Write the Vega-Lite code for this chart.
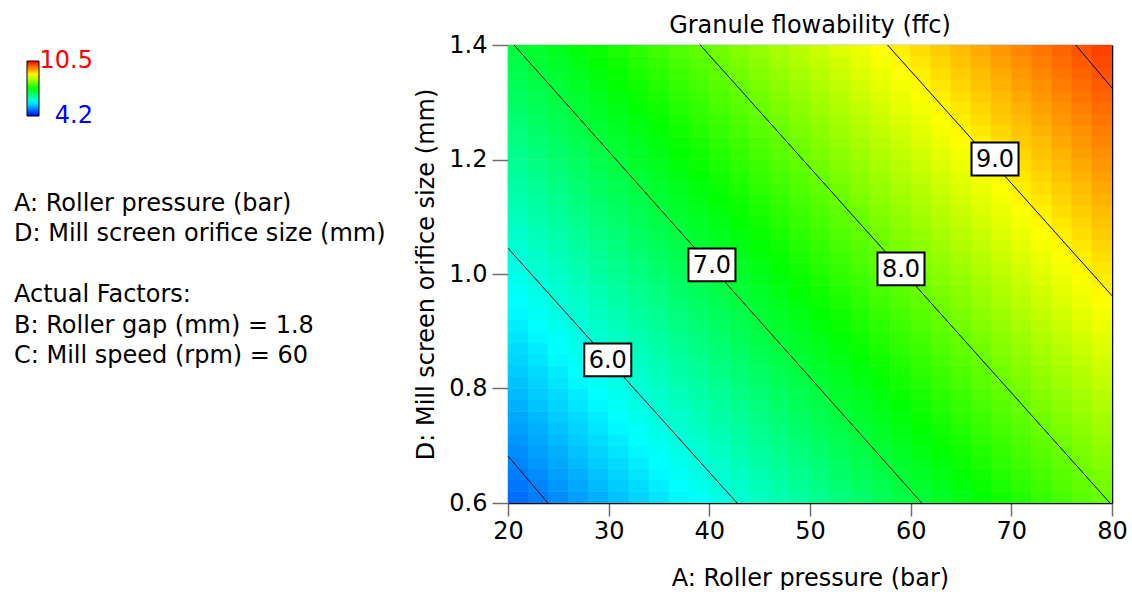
{
"$schema":"https://vega.github.io/schema/vega-lite/v6.json",
"background":"white",
"padding":{"left":14,"top":14,"right":5,"bottom":0},
"spacing":20,
"config":{"view":{"stroke":null},"font":"DejaVu Sans"},
"datasets":{
"notes":[{"col":0,"line":1,"txt":"A: Roller pressure (bar)"},{"col":0,"line":2,"txt":"D: Mill screen orifice size (mm)"},{"col":0,"line":4,"txt":"Actual Factors:"},{"col":0,"line":5,"txt":"B: Roller gap (mm) = 1.8"},{"col":0,"line":6,"txt":"C: Mill speed (rpm) = 60"}],
"lines":[{"lev":5,"a":20,"d":0.682},{"lev":5,"a":23.97,"d":0.6},{"lev":6,"a":20,"d":1.045},{"lev":6,"a":42.75,"d":0.6},{"lev":7,"a":20.6,"d":1.4},{"lev":7,"a":61.1,"d":0.6},{"lev":8,"a":39.1,"d":1.4},{"lev":8,"a":79.8,"d":0.6},{"lev":9,"a":57.7,"d":1.4},{"lev":9,"a":80,"d":0.962},{"lev":10,"a":76.4,"d":1.4},{"lev":10,"a":80,"d":1.325}],
"labels":[{"lab":"6.0","a":29.91,"d":0.85},{"lab":"7.0","a":40.26,"d":1.016},{"lab":"8.0","a":59.04,"d":1.009},{"lab":"9.0","a":68.38,"d":1.201}],
"grid":[
{"a":21,"d":0.61,"f":4.86},{"a":23,"d":0.61,"f":4.97},{"a":25,"d":0.61,"f":5.08},{"a":27,"d":0.61,"f":5.19},{"a":29,"d":0.61,"f":5.29},{"a":31,"d":0.61,"f":5.4},{"a":33,"d":0.61,"f":5.51},{"a":35,"d":0.61,"f":5.62},{"a":37,"d":0.61,"f":5.73},{"a":39,"d":0.61,"f":5.83},{"a":41,"d":0.61,"f":5.94},{"a":43,"d":0.61,"f":6.05},{"a":45,"d":0.61,"f":6.16},{"a":47,"d":0.61,"f":6.27},{"a":49,"d":0.61,"f":6.37},{"a":51,"d":0.61,"f":6.48},{"a":53,"d":0.61,"f":6.59},{"a":55,"d":0.61,"f":6.7},{"a":57,"d":0.61,"f":6.81},{"a":59,"d":0.61,"f":6.91},{"a":61,"d":0.61,"f":7.02},{"a":63,"d":0.61,"f":7.13},{"a":65,"d":0.61,"f":7.24},{"a":67,"d":0.61,"f":7.35},{"a":69,"d":0.61,"f":7.45},{"a":71,"d":0.61,"f":7.56},{"a":73,"d":0.61,"f":7.67},{"a":75,"d":0.61,"f":7.78},{"a":77,"d":0.61,"f":7.89},{"a":79,"d":0.61,"f":7.99},
{"a":21,"d":0.63,"f":4.92},{"a":23,"d":0.63,"f":5.02},{"a":25,"d":0.63,"f":5.13},{"a":27,"d":0.63,"f":5.24},{"a":29,"d":0.63,"f":5.35},{"a":31,"d":0.63,"f":5.46},{"a":33,"d":0.63,"f":5.56},{"a":35,"d":0.63,"f":5.67},{"a":37,"d":0.63,"f":5.78},{"a":39,"d":0.63,"f":5.89},{"a":41,"d":0.63,"f":6},{"a":43,"d":0.63,"f":6.1},{"a":45,"d":0.63,"f":6.21},{"a":47,"d":0.63,"f":6.32},{"a":49,"d":0.63,"f":6.43},{"a":51,"d":0.63,"f":6.54},{"a":53,"d":0.63,"f":6.64},{"a":55,"d":0.63,"f":6.75},{"a":57,"d":0.63,"f":6.86},{"a":59,"d":0.63,"f":6.97},{"a":61,"d":0.63,"f":7.08},{"a":63,"d":0.63,"f":7.18},{"a":65,"d":0.63,"f":7.29},{"a":67,"d":0.63,"f":7.4},{"a":69,"d":0.63,"f":7.51},{"a":71,"d":0.63,"f":7.62},{"a":73,"d":0.63,"f":7.72},{"a":75,"d":0.63,"f":7.83},{"a":77,"d":0.63,"f":7.94},{"a":79,"d":0.63,"f":8.05},
{"a":21,"d":0.65,"f":4.97},{"a":23,"d":0.65,"f":5.08},{"a":25,"d":0.65,"f":5.19},{"a":27,"d":0.65,"f":5.29},{"a":29,"d":0.65,"f":5.4},{"a":31,"d":0.65,"f":5.51},{"a":33,"d":0.65,"f":5.62},{"a":35,"d":0.65,"f":5.73},{"a":37,"d":0.65,"f":5.83},{"a":39,"d":0.65,"f":5.94},{"a":41,"d":0.65,"f":6.05},{"a":43,"d":0.65,"f":6.16},{"a":45,"d":0.65,"f":6.27},{"a":47,"d":0.65,"f":6.37},{"a":49,"d":0.65,"f":6.48},{"a":51,"d":0.65,"f":6.59},{"a":53,"d":0.65,"f":6.7},{"a":55,"d":0.65,"f":6.81},{"a":57,"d":0.65,"f":6.91},{"a":59,"d":0.65,"f":7.02},{"a":61,"d":0.65,"f":7.13},{"a":63,"d":0.65,"f":7.24},{"a":65,"d":0.65,"f":7.35},{"a":67,"d":0.65,"f":7.45},{"a":69,"d":0.65,"f":7.56},{"a":71,"d":0.65,"f":7.67},{"a":73,"d":0.65,"f":7.78},{"a":75,"d":0.65,"f":7.89},{"a":77,"d":0.65,"f":7.99},{"a":79,"d":0.65,"f":8.1},
{"a":21,"d":0.67,"f":5.02},{"a":23,"d":0.67,"f":5.13},{"a":25,"d":0.67,"f":5.24},{"a":27,"d":0.67,"f":5.35},{"a":29,"d":0.67,"f":5.46},{"a":31,"d":0.67,"f":5.56},{"a":33,"d":0.67,"f":5.67},{"a":35,"d":0.67,"f":5.78},{"a":37,"d":0.67,"f":5.89},{"a":39,"d":0.67,"f":6},{"a":41,"d":0.67,"f":6.1},{"a":43,"d":0.67,"f":6.21},{"a":45,"d":0.67,"f":6.32},{"a":47,"d":0.67,"f":6.43},{"a":49,"d":0.67,"f":6.54},{"a":51,"d":0.67,"f":6.64},{"a":53,"d":0.67,"f":6.75},{"a":55,"d":0.67,"f":6.86},{"a":57,"d":0.67,"f":6.97},{"a":59,"d":0.67,"f":7.08},{"a":61,"d":0.67,"f":7.18},{"a":63,"d":0.67,"f":7.29},{"a":65,"d":0.67,"f":7.4},{"a":67,"d":0.67,"f":7.51},{"a":69,"d":0.67,"f":7.62},{"a":71,"d":0.67,"f":7.72},{"a":73,"d":0.67,"f":7.83},{"a":75,"d":0.67,"f":7.94},{"a":77,"d":0.67,"f":8.05},{"a":79,"d":0.67,"f":8.16},
{"a":21,"d":0.69,"f":5.08},{"a":23,"d":0.69,"f":5.19},{"a":25,"d":0.69,"f":5.29},{"a":27,"d":0.69,"f":5.4},{"a":29,"d":0.69,"f":5.51},{"a":31,"d":0.69,"f":5.62},{"a":33,"d":0.69,"f":5.73},{"a":35,"d":0.69,"f":5.83},{"a":37,"d":0.69,"f":5.94},{"a":39,"d":0.69,"f":6.05},{"a":41,"d":0.69,"f":6.16},{"a":43,"d":0.69,"f":6.27},{"a":45,"d":0.69,"f":6.37},{"a":47,"d":0.69,"f":6.48},{"a":49,"d":0.69,"f":6.59},{"a":51,"d":0.69,"f":6.7},{"a":53,"d":0.69,"f":6.81},{"a":55,"d":0.69,"f":6.91},{"a":57,"d":0.69,"f":7.02},{"a":59,"d":0.69,"f":7.13},{"a":61,"d":0.69,"f":7.24},{"a":63,"d":0.69,"f":7.35},{"a":65,"d":0.69,"f":7.45},{"a":67,"d":0.69,"f":7.56},{"a":69,"d":0.69,"f":7.67},{"a":71,"d":0.69,"f":7.78},{"a":73,"d":0.69,"f":7.89},{"a":75,"d":0.69,"f":7.99},{"a":77,"d":0.69,"f":8.1},{"a":79,"d":0.69,"f":8.21},
{"a":21,"d":0.71,"f":5.13},{"a":23,"d":0.71,"f":5.24},{"a":25,"d":0.71,"f":5.35},{"a":27,"d":0.71,"f":5.46},{"a":29,"d":0.71,"f":5.56},{"a":31,"d":0.71,"f":5.67},{"a":33,"d":0.71,"f":5.78},{"a":35,"d":0.71,"f":5.89},{"a":37,"d":0.71,"f":6},{"a":39,"d":0.71,"f":6.1},{"a":41,"d":0.71,"f":6.21},{"a":43,"d":0.71,"f":6.32},{"a":45,"d":0.71,"f":6.43},{"a":47,"d":0.71,"f":6.54},{"a":49,"d":0.71,"f":6.64},{"a":51,"d":0.71,"f":6.75},{"a":53,"d":0.71,"f":6.86},{"a":55,"d":0.71,"f":6.97},{"a":57,"d":0.71,"f":7.08},{"a":59,"d":0.71,"f":7.18},{"a":61,"d":0.71,"f":7.29},{"a":63,"d":0.71,"f":7.4},{"a":65,"d":0.71,"f":7.51},{"a":67,"d":0.71,"f":7.62},{"a":69,"d":0.71,"f":7.72},{"a":71,"d":0.71,"f":7.83},{"a":73,"d":0.71,"f":7.94},{"a":75,"d":0.71,"f":8.05},{"a":77,"d":0.71,"f":8.16},{"a":79,"d":0.71,"f":8.26},
{"a":21,"d":0.73,"f":5.19},{"a":23,"d":0.73,"f":5.29},{"a":25,"d":0.73,"f":5.4},{"a":27,"d":0.73,"f":5.51},{"a":29,"d":0.73,"f":5.62},{"a":31,"d":0.73,"f":5.73},{"a":33,"d":0.73,"f":5.83},{"a":35,"d":0.73,"f":5.94},{"a":37,"d":0.73,"f":6.05},{"a":39,"d":0.73,"f":6.16},{"a":41,"d":0.73,"f":6.27},{"a":43,"d":0.73,"f":6.37},{"a":45,"d":0.73,"f":6.48},{"a":47,"d":0.73,"f":6.59},{"a":49,"d":0.73,"f":6.7},{"a":51,"d":0.73,"f":6.81},{"a":53,"d":0.73,"f":6.91},{"a":55,"d":0.73,"f":7.02},{"a":57,"d":0.73,"f":7.13},{"a":59,"d":0.73,"f":7.24},{"a":61,"d":0.73,"f":7.35},{"a":63,"d":0.73,"f":7.45},{"a":65,"d":0.73,"f":7.56},{"a":67,"d":0.73,"f":7.67},{"a":69,"d":0.73,"f":7.78},{"a":71,"d":0.73,"f":7.89},{"a":73,"d":0.73,"f":7.99},{"a":75,"d":0.73,"f":8.1},{"a":77,"d":0.73,"f":8.21},{"a":79,"d":0.73,"f":8.32},
{"a":21,"d":0.75,"f":5.24},{"a":23,"d":0.75,"f":5.35},{"a":25,"d":0.75,"f":5.46},{"a":27,"d":0.75,"f":5.56},{"a":29,"d":0.75,"f":5.67},{"a":31,"d":0.75,"f":5.78},{"a":33,"d":0.75,"f":5.89},{"a":35,"d":0.75,"f":6},{"a":37,"d":0.75,"f":6.1},{"a":39,"d":0.75,"f":6.21},{"a":41,"d":0.75,"f":6.32},{"a":43,"d":0.75,"f":6.43},{"a":45,"d":0.75,"f":6.54},{"a":47,"d":0.75,"f":6.64},{"a":49,"d":0.75,"f":6.75},{"a":51,"d":0.75,"f":6.86},{"a":53,"d":0.75,"f":6.97},{"a":55,"d":0.75,"f":7.08},{"a":57,"d":0.75,"f":7.18},{"a":59,"d":0.75,"f":7.29},{"a":61,"d":0.75,"f":7.4},{"a":63,"d":0.75,"f":7.51},{"a":65,"d":0.75,"f":7.62},{"a":67,"d":0.75,"f":7.72},{"a":69,"d":0.75,"f":7.83},{"a":71,"d":0.75,"f":7.94},{"a":73,"d":0.75,"f":8.05},{"a":75,"d":0.75,"f":8.16},{"a":77,"d":0.75,"f":8.26},{"a":79,"d":0.75,"f":8.37},
{"a":21,"d":0.77,"f":5.29},{"a":23,"d":0.77,"f":5.4},{"a":25,"d":0.77,"f":5.51},{"a":27,"d":0.77,"f":5.62},{"a":29,"d":0.77,"f":5.73},{"a":31,"d":0.77,"f":5.83},{"a":33,"d":0.77,"f":5.94},{"a":35,"d":0.77,"f":6.05},{"a":37,"d":0.77,"f":6.16},{"a":39,"d":0.77,"f":6.27},{"a":41,"d":0.77,"f":6.37},{"a":43,"d":0.77,"f":6.48},{"a":45,"d":0.77,"f":6.59},{"a":47,"d":0.77,"f":6.7},{"a":49,"d":0.77,"f":6.81},{"a":51,"d":0.77,"f":6.91},{"a":53,"d":0.77,"f":7.02},{"a":55,"d":0.77,"f":7.13},{"a":57,"d":0.77,"f":7.24},{"a":59,"d":0.77,"f":7.35},{"a":61,"d":0.77,"f":7.45},{"a":63,"d":0.77,"f":7.56},{"a":65,"d":0.77,"f":7.67},{"a":67,"d":0.77,"f":7.78},{"a":69,"d":0.77,"f":7.89},{"a":71,"d":0.77,"f":7.99},{"a":73,"d":0.77,"f":8.1},{"a":75,"d":0.77,"f":8.21},{"a":77,"d":0.77,"f":8.32},{"a":79,"d":0.77,"f":8.43},
{"a":21,"d":0.79,"f":5.35},{"a":23,"d":0.79,"f":5.46},{"a":25,"d":0.79,"f":5.56},{"a":27,"d":0.79,"f":5.67},{"a":29,"d":0.79,"f":5.78},{"a":31,"d":0.79,"f":5.89},{"a":33,"d":0.79,"f":6},{"a":35,"d":0.79,"f":6.1},{"a":37,"d":0.79,"f":6.21},{"a":39,"d":0.79,"f":6.32},{"a":41,"d":0.79,"f":6.43},{"a":43,"d":0.79,"f":6.54},{"a":45,"d":0.79,"f":6.64},{"a":47,"d":0.79,"f":6.75},{"a":49,"d":0.79,"f":6.86},{"a":51,"d":0.79,"f":6.97},{"a":53,"d":0.79,"f":7.08},{"a":55,"d":0.79,"f":7.18},{"a":57,"d":0.79,"f":7.29},{"a":59,"d":0.79,"f":7.4},{"a":61,"d":0.79,"f":7.51},{"a":63,"d":0.79,"f":7.62},{"a":65,"d":0.79,"f":7.72},{"a":67,"d":0.79,"f":7.83},{"a":69,"d":0.79,"f":7.94},{"a":71,"d":0.79,"f":8.05},{"a":73,"d":0.79,"f":8.16},{"a":75,"d":0.79,"f":8.26},{"a":77,"d":0.79,"f":8.37},{"a":79,"d":0.79,"f":8.48},
{"a":21,"d":0.81,"f":5.4},{"a":23,"d":0.81,"f":5.51},{"a":25,"d":0.81,"f":5.62},{"a":27,"d":0.81,"f":5.73},{"a":29,"d":0.81,"f":5.83},{"a":31,"d":0.81,"f":5.94},{"a":33,"d":0.81,"f":6.05},{"a":35,"d":0.81,"f":6.16},{"a":37,"d":0.81,"f":6.27},{"a":39,"d":0.81,"f":6.37},{"a":41,"d":0.81,"f":6.48},{"a":43,"d":0.81,"f":6.59},{"a":45,"d":0.81,"f":6.7},{"a":47,"d":0.81,"f":6.81},{"a":49,"d":0.81,"f":6.91},{"a":51,"d":0.81,"f":7.02},{"a":53,"d":0.81,"f":7.13},{"a":55,"d":0.81,"f":7.24},{"a":57,"d":0.81,"f":7.35},{"a":59,"d":0.81,"f":7.45},{"a":61,"d":0.81,"f":7.56},{"a":63,"d":0.81,"f":7.67},{"a":65,"d":0.81,"f":7.78},{"a":67,"d":0.81,"f":7.89},{"a":69,"d":0.81,"f":7.99},{"a":71,"d":0.81,"f":8.1},{"a":73,"d":0.81,"f":8.21},{"a":75,"d":0.81,"f":8.32},{"a":77,"d":0.81,"f":8.43},{"a":79,"d":0.81,"f":8.53},
{"a":21,"d":0.83,"f":5.46},{"a":23,"d":0.83,"f":5.56},{"a":25,"d":0.83,"f":5.67},{"a":27,"d":0.83,"f":5.78},{"a":29,"d":0.83,"f":5.89},{"a":31,"d":0.83,"f":6},{"a":33,"d":0.83,"f":6.1},{"a":35,"d":0.83,"f":6.21},{"a":37,"d":0.83,"f":6.32},{"a":39,"d":0.83,"f":6.43},{"a":41,"d":0.83,"f":6.54},{"a":43,"d":0.83,"f":6.64},{"a":45,"d":0.83,"f":6.75},{"a":47,"d":0.83,"f":6.86},{"a":49,"d":0.83,"f":6.97},{"a":51,"d":0.83,"f":7.08},{"a":53,"d":0.83,"f":7.18},{"a":55,"d":0.83,"f":7.29},{"a":57,"d":0.83,"f":7.4},{"a":59,"d":0.83,"f":7.51},{"a":61,"d":0.83,"f":7.62},{"a":63,"d":0.83,"f":7.72},{"a":65,"d":0.83,"f":7.83},{"a":67,"d":0.83,"f":7.94},{"a":69,"d":0.83,"f":8.05},{"a":71,"d":0.83,"f":8.16},{"a":73,"d":0.83,"f":8.26},{"a":75,"d":0.83,"f":8.37},{"a":77,"d":0.83,"f":8.48},{"a":79,"d":0.83,"f":8.59},
{"a":21,"d":0.85,"f":5.51},{"a":23,"d":0.85,"f":5.62},{"a":25,"d":0.85,"f":5.73},{"a":27,"d":0.85,"f":5.83},{"a":29,"d":0.85,"f":5.94},{"a":31,"d":0.85,"f":6.05},{"a":33,"d":0.85,"f":6.16},{"a":35,"d":0.85,"f":6.27},{"a":37,"d":0.85,"f":6.37},{"a":39,"d":0.85,"f":6.48},{"a":41,"d":0.85,"f":6.59},{"a":43,"d":0.85,"f":6.7},{"a":45,"d":0.85,"f":6.81},{"a":47,"d":0.85,"f":6.91},{"a":49,"d":0.85,"f":7.02},{"a":51,"d":0.85,"f":7.13},{"a":53,"d":0.85,"f":7.24},{"a":55,"d":0.85,"f":7.35},{"a":57,"d":0.85,"f":7.45},{"a":59,"d":0.85,"f":7.56},{"a":61,"d":0.85,"f":7.67},{"a":63,"d":0.85,"f":7.78},{"a":65,"d":0.85,"f":7.89},{"a":67,"d":0.85,"f":7.99},{"a":69,"d":0.85,"f":8.1},{"a":71,"d":0.85,"f":8.21},{"a":73,"d":0.85,"f":8.32},{"a":75,"d":0.85,"f":8.43},{"a":77,"d":0.85,"f":8.53},{"a":79,"d":0.85,"f":8.64},
{"a":21,"d":0.87,"f":5.56},{"a":23,"d":0.87,"f":5.67},{"a":25,"d":0.87,"f":5.78},{"a":27,"d":0.87,"f":5.89},{"a":29,"d":0.87,"f":6},{"a":31,"d":0.87,"f":6.1},{"a":33,"d":0.87,"f":6.21},{"a":35,"d":0.87,"f":6.32},{"a":37,"d":0.87,"f":6.43},{"a":39,"d":0.87,"f":6.54},{"a":41,"d":0.87,"f":6.64},{"a":43,"d":0.87,"f":6.75},{"a":45,"d":0.87,"f":6.86},{"a":47,"d":0.87,"f":6.97},{"a":49,"d":0.87,"f":7.08},{"a":51,"d":0.87,"f":7.18},{"a":53,"d":0.87,"f":7.29},{"a":55,"d":0.87,"f":7.4},{"a":57,"d":0.87,"f":7.51},{"a":59,"d":0.87,"f":7.62},{"a":61,"d":0.87,"f":7.72},{"a":63,"d":0.87,"f":7.83},{"a":65,"d":0.87,"f":7.94},{"a":67,"d":0.87,"f":8.05},{"a":69,"d":0.87,"f":8.16},{"a":71,"d":0.87,"f":8.26},{"a":73,"d":0.87,"f":8.37},{"a":75,"d":0.87,"f":8.48},{"a":77,"d":0.87,"f":8.59},{"a":79,"d":0.87,"f":8.7},
{"a":21,"d":0.89,"f":5.62},{"a":23,"d":0.89,"f":5.73},{"a":25,"d":0.89,"f":5.83},{"a":27,"d":0.89,"f":5.94},{"a":29,"d":0.89,"f":6.05},{"a":31,"d":0.89,"f":6.16},{"a":33,"d":0.89,"f":6.27},{"a":35,"d":0.89,"f":6.37},{"a":37,"d":0.89,"f":6.48},{"a":39,"d":0.89,"f":6.59},{"a":41,"d":0.89,"f":6.7},{"a":43,"d":0.89,"f":6.81},{"a":45,"d":0.89,"f":6.91},{"a":47,"d":0.89,"f":7.02},{"a":49,"d":0.89,"f":7.13},{"a":51,"d":0.89,"f":7.24},{"a":53,"d":0.89,"f":7.35},{"a":55,"d":0.89,"f":7.45},{"a":57,"d":0.89,"f":7.56},{"a":59,"d":0.89,"f":7.67},{"a":61,"d":0.89,"f":7.78},{"a":63,"d":0.89,"f":7.89},{"a":65,"d":0.89,"f":7.99},{"a":67,"d":0.89,"f":8.1},{"a":69,"d":0.89,"f":8.21},{"a":71,"d":0.89,"f":8.32},{"a":73,"d":0.89,"f":8.43},{"a":75,"d":0.89,"f":8.53},{"a":77,"d":0.89,"f":8.64},{"a":79,"d":0.89,"f":8.75},
{"a":21,"d":0.91,"f":5.67},{"a":23,"d":0.91,"f":5.78},{"a":25,"d":0.91,"f":5.89},{"a":27,"d":0.91,"f":6},{"a":29,"d":0.91,"f":6.1},{"a":31,"d":0.91,"f":6.21},{"a":33,"d":0.91,"f":6.32},{"a":35,"d":0.91,"f":6.43},{"a":37,"d":0.91,"f":6.54},{"a":39,"d":0.91,"f":6.64},{"a":41,"d":0.91,"f":6.75},{"a":43,"d":0.91,"f":6.86},{"a":45,"d":0.91,"f":6.97},{"a":47,"d":0.91,"f":7.08},{"a":49,"d":0.91,"f":7.18},{"a":51,"d":0.91,"f":7.29},{"a":53,"d":0.91,"f":7.4},{"a":55,"d":0.91,"f":7.51},{"a":57,"d":0.91,"f":7.62},{"a":59,"d":0.91,"f":7.72},{"a":61,"d":0.91,"f":7.83},{"a":63,"d":0.91,"f":7.94},{"a":65,"d":0.91,"f":8.05},{"a":67,"d":0.91,"f":8.16},{"a":69,"d":0.91,"f":8.26},{"a":71,"d":0.91,"f":8.37},{"a":73,"d":0.91,"f":8.48},{"a":75,"d":0.91,"f":8.59},{"a":77,"d":0.91,"f":8.7},{"a":79,"d":0.91,"f":8.8},
{"a":21,"d":0.93,"f":5.73},{"a":23,"d":0.93,"f":5.83},{"a":25,"d":0.93,"f":5.94},{"a":27,"d":0.93,"f":6.05},{"a":29,"d":0.93,"f":6.16},{"a":31,"d":0.93,"f":6.27},{"a":33,"d":0.93,"f":6.37},{"a":35,"d":0.93,"f":6.48},{"a":37,"d":0.93,"f":6.59},{"a":39,"d":0.93,"f":6.7},{"a":41,"d":0.93,"f":6.81},{"a":43,"d":0.93,"f":6.91},{"a":45,"d":0.93,"f":7.02},{"a":47,"d":0.93,"f":7.13},{"a":49,"d":0.93,"f":7.24},{"a":51,"d":0.93,"f":7.35},{"a":53,"d":0.93,"f":7.45},{"a":55,"d":0.93,"f":7.56},{"a":57,"d":0.93,"f":7.67},{"a":59,"d":0.93,"f":7.78},{"a":61,"d":0.93,"f":7.89},{"a":63,"d":0.93,"f":7.99},{"a":65,"d":0.93,"f":8.1},{"a":67,"d":0.93,"f":8.21},{"a":69,"d":0.93,"f":8.32},{"a":71,"d":0.93,"f":8.43},{"a":73,"d":0.93,"f":8.53},{"a":75,"d":0.93,"f":8.64},{"a":77,"d":0.93,"f":8.75},{"a":79,"d":0.93,"f":8.86},
{"a":21,"d":0.95,"f":5.78},{"a":23,"d":0.95,"f":5.89},{"a":25,"d":0.95,"f":6},{"a":27,"d":0.95,"f":6.1},{"a":29,"d":0.95,"f":6.21},{"a":31,"d":0.95,"f":6.32},{"a":33,"d":0.95,"f":6.43},{"a":35,"d":0.95,"f":6.54},{"a":37,"d":0.95,"f":6.64},{"a":39,"d":0.95,"f":6.75},{"a":41,"d":0.95,"f":6.86},{"a":43,"d":0.95,"f":6.97},{"a":45,"d":0.95,"f":7.08},{"a":47,"d":0.95,"f":7.18},{"a":49,"d":0.95,"f":7.29},{"a":51,"d":0.95,"f":7.4},{"a":53,"d":0.95,"f":7.51},{"a":55,"d":0.95,"f":7.62},{"a":57,"d":0.95,"f":7.72},{"a":59,"d":0.95,"f":7.83},{"a":61,"d":0.95,"f":7.94},{"a":63,"d":0.95,"f":8.05},{"a":65,"d":0.95,"f":8.16},{"a":67,"d":0.95,"f":8.26},{"a":69,"d":0.95,"f":8.37},{"a":71,"d":0.95,"f":8.48},{"a":73,"d":0.95,"f":8.59},{"a":75,"d":0.95,"f":8.7},{"a":77,"d":0.95,"f":8.8},{"a":79,"d":0.95,"f":8.91},
{"a":21,"d":0.97,"f":5.83},{"a":23,"d":0.97,"f":5.94},{"a":25,"d":0.97,"f":6.05},{"a":27,"d":0.97,"f":6.16},{"a":29,"d":0.97,"f":6.27},{"a":31,"d":0.97,"f":6.37},{"a":33,"d":0.97,"f":6.48},{"a":35,"d":0.97,"f":6.59},{"a":37,"d":0.97,"f":6.7},{"a":39,"d":0.97,"f":6.81},{"a":41,"d":0.97,"f":6.91},{"a":43,"d":0.97,"f":7.02},{"a":45,"d":0.97,"f":7.13},{"a":47,"d":0.97,"f":7.24},{"a":49,"d":0.97,"f":7.35},{"a":51,"d":0.97,"f":7.45},{"a":53,"d":0.97,"f":7.56},{"a":55,"d":0.97,"f":7.67},{"a":57,"d":0.97,"f":7.78},{"a":59,"d":0.97,"f":7.89},{"a":61,"d":0.97,"f":7.99},{"a":63,"d":0.97,"f":8.1},{"a":65,"d":0.97,"f":8.21},{"a":67,"d":0.97,"f":8.32},{"a":69,"d":0.97,"f":8.43},{"a":71,"d":0.97,"f":8.53},{"a":73,"d":0.97,"f":8.64},{"a":75,"d":0.97,"f":8.75},{"a":77,"d":0.97,"f":8.86},{"a":79,"d":0.97,"f":8.97},
{"a":21,"d":0.99,"f":5.89},{"a":23,"d":0.99,"f":6},{"a":25,"d":0.99,"f":6.1},{"a":27,"d":0.99,"f":6.21},{"a":29,"d":0.99,"f":6.32},{"a":31,"d":0.99,"f":6.43},{"a":33,"d":0.99,"f":6.54},{"a":35,"d":0.99,"f":6.64},{"a":37,"d":0.99,"f":6.75},{"a":39,"d":0.99,"f":6.86},{"a":41,"d":0.99,"f":6.97},{"a":43,"d":0.99,"f":7.08},{"a":45,"d":0.99,"f":7.18},{"a":47,"d":0.99,"f":7.29},{"a":49,"d":0.99,"f":7.4},{"a":51,"d":0.99,"f":7.51},{"a":53,"d":0.99,"f":7.62},{"a":55,"d":0.99,"f":7.72},{"a":57,"d":0.99,"f":7.83},{"a":59,"d":0.99,"f":7.94},{"a":61,"d":0.99,"f":8.05},{"a":63,"d":0.99,"f":8.16},{"a":65,"d":0.99,"f":8.26},{"a":67,"d":0.99,"f":8.37},{"a":69,"d":0.99,"f":8.48},{"a":71,"d":0.99,"f":8.59},{"a":73,"d":0.99,"f":8.7},{"a":75,"d":0.99,"f":8.8},{"a":77,"d":0.99,"f":8.91},{"a":79,"d":0.99,"f":9.02},
{"a":21,"d":1.01,"f":5.94},{"a":23,"d":1.01,"f":6.05},{"a":25,"d":1.01,"f":6.16},{"a":27,"d":1.01,"f":6.27},{"a":29,"d":1.01,"f":6.37},{"a":31,"d":1.01,"f":6.48},{"a":33,"d":1.01,"f":6.59},{"a":35,"d":1.01,"f":6.7},{"a":37,"d":1.01,"f":6.81},{"a":39,"d":1.01,"f":6.91},{"a":41,"d":1.01,"f":7.02},{"a":43,"d":1.01,"f":7.13},{"a":45,"d":1.01,"f":7.24},{"a":47,"d":1.01,"f":7.35},{"a":49,"d":1.01,"f":7.45},{"a":51,"d":1.01,"f":7.56},{"a":53,"d":1.01,"f":7.67},{"a":55,"d":1.01,"f":7.78},{"a":57,"d":1.01,"f":7.89},{"a":59,"d":1.01,"f":7.99},{"a":61,"d":1.01,"f":8.1},{"a":63,"d":1.01,"f":8.21},{"a":65,"d":1.01,"f":8.32},{"a":67,"d":1.01,"f":8.43},{"a":69,"d":1.01,"f":8.53},{"a":71,"d":1.01,"f":8.64},{"a":73,"d":1.01,"f":8.75},{"a":75,"d":1.01,"f":8.86},{"a":77,"d":1.01,"f":8.97},{"a":79,"d":1.01,"f":9.07},
{"a":21,"d":1.03,"f":6},{"a":23,"d":1.03,"f":6.1},{"a":25,"d":1.03,"f":6.21},{"a":27,"d":1.03,"f":6.32},{"a":29,"d":1.03,"f":6.43},{"a":31,"d":1.03,"f":6.54},{"a":33,"d":1.03,"f":6.64},{"a":35,"d":1.03,"f":6.75},{"a":37,"d":1.03,"f":6.86},{"a":39,"d":1.03,"f":6.97},{"a":41,"d":1.03,"f":7.08},{"a":43,"d":1.03,"f":7.18},{"a":45,"d":1.03,"f":7.29},{"a":47,"d":1.03,"f":7.4},{"a":49,"d":1.03,"f":7.51},{"a":51,"d":1.03,"f":7.62},{"a":53,"d":1.03,"f":7.72},{"a":55,"d":1.03,"f":7.83},{"a":57,"d":1.03,"f":7.94},{"a":59,"d":1.03,"f":8.05},{"a":61,"d":1.03,"f":8.16},{"a":63,"d":1.03,"f":8.26},{"a":65,"d":1.03,"f":8.37},{"a":67,"d":1.03,"f":8.48},{"a":69,"d":1.03,"f":8.59},{"a":71,"d":1.03,"f":8.7},{"a":73,"d":1.03,"f":8.8},{"a":75,"d":1.03,"f":8.91},{"a":77,"d":1.03,"f":9.02},{"a":79,"d":1.03,"f":9.13},
{"a":21,"d":1.05,"f":6.05},{"a":23,"d":1.05,"f":6.16},{"a":25,"d":1.05,"f":6.27},{"a":27,"d":1.05,"f":6.37},{"a":29,"d":1.05,"f":6.48},{"a":31,"d":1.05,"f":6.59},{"a":33,"d":1.05,"f":6.7},{"a":35,"d":1.05,"f":6.81},{"a":37,"d":1.05,"f":6.91},{"a":39,"d":1.05,"f":7.02},{"a":41,"d":1.05,"f":7.13},{"a":43,"d":1.05,"f":7.24},{"a":45,"d":1.05,"f":7.35},{"a":47,"d":1.05,"f":7.45},{"a":49,"d":1.05,"f":7.56},{"a":51,"d":1.05,"f":7.67},{"a":53,"d":1.05,"f":7.78},{"a":55,"d":1.05,"f":7.89},{"a":57,"d":1.05,"f":7.99},{"a":59,"d":1.05,"f":8.1},{"a":61,"d":1.05,"f":8.21},{"a":63,"d":1.05,"f":8.32},{"a":65,"d":1.05,"f":8.43},{"a":67,"d":1.05,"f":8.53},{"a":69,"d":1.05,"f":8.64},{"a":71,"d":1.05,"f":8.75},{"a":73,"d":1.05,"f":8.86},{"a":75,"d":1.05,"f":8.97},{"a":77,"d":1.05,"f":9.07},{"a":79,"d":1.05,"f":9.18},
{"a":21,"d":1.07,"f":6.1},{"a":23,"d":1.07,"f":6.21},{"a":25,"d":1.07,"f":6.32},{"a":27,"d":1.07,"f":6.43},{"a":29,"d":1.07,"f":6.54},{"a":31,"d":1.07,"f":6.64},{"a":33,"d":1.07,"f":6.75},{"a":35,"d":1.07,"f":6.86},{"a":37,"d":1.07,"f":6.97},{"a":39,"d":1.07,"f":7.08},{"a":41,"d":1.07,"f":7.18},{"a":43,"d":1.07,"f":7.29},{"a":45,"d":1.07,"f":7.4},{"a":47,"d":1.07,"f":7.51},{"a":49,"d":1.07,"f":7.62},{"a":51,"d":1.07,"f":7.72},{"a":53,"d":1.07,"f":7.83},{"a":55,"d":1.07,"f":7.94},{"a":57,"d":1.07,"f":8.05},{"a":59,"d":1.07,"f":8.16},{"a":61,"d":1.07,"f":8.26},{"a":63,"d":1.07,"f":8.37},{"a":65,"d":1.07,"f":8.48},{"a":67,"d":1.07,"f":8.59},{"a":69,"d":1.07,"f":8.7},{"a":71,"d":1.07,"f":8.8},{"a":73,"d":1.07,"f":8.91},{"a":75,"d":1.07,"f":9.02},{"a":77,"d":1.07,"f":9.13},{"a":79,"d":1.07,"f":9.24},
{"a":21,"d":1.09,"f":6.16},{"a":23,"d":1.09,"f":6.27},{"a":25,"d":1.09,"f":6.37},{"a":27,"d":1.09,"f":6.48},{"a":29,"d":1.09,"f":6.59},{"a":31,"d":1.09,"f":6.7},{"a":33,"d":1.09,"f":6.81},{"a":35,"d":1.09,"f":6.91},{"a":37,"d":1.09,"f":7.02},{"a":39,"d":1.09,"f":7.13},{"a":41,"d":1.09,"f":7.24},{"a":43,"d":1.09,"f":7.35},{"a":45,"d":1.09,"f":7.45},{"a":47,"d":1.09,"f":7.56},{"a":49,"d":1.09,"f":7.67},{"a":51,"d":1.09,"f":7.78},{"a":53,"d":1.09,"f":7.89},{"a":55,"d":1.09,"f":7.99},{"a":57,"d":1.09,"f":8.1},{"a":59,"d":1.09,"f":8.21},{"a":61,"d":1.09,"f":8.32},{"a":63,"d":1.09,"f":8.43},{"a":65,"d":1.09,"f":8.53},{"a":67,"d":1.09,"f":8.64},{"a":69,"d":1.09,"f":8.75},{"a":71,"d":1.09,"f":8.86},{"a":73,"d":1.09,"f":8.97},{"a":75,"d":1.09,"f":9.07},{"a":77,"d":1.09,"f":9.18},{"a":79,"d":1.09,"f":9.29},
{"a":21,"d":1.11,"f":6.21},{"a":23,"d":1.11,"f":6.32},{"a":25,"d":1.11,"f":6.43},{"a":27,"d":1.11,"f":6.54},{"a":29,"d":1.11,"f":6.64},{"a":31,"d":1.11,"f":6.75},{"a":33,"d":1.11,"f":6.86},{"a":35,"d":1.11,"f":6.97},{"a":37,"d":1.11,"f":7.08},{"a":39,"d":1.11,"f":7.18},{"a":41,"d":1.11,"f":7.29},{"a":43,"d":1.11,"f":7.4},{"a":45,"d":1.11,"f":7.51},{"a":47,"d":1.11,"f":7.62},{"a":49,"d":1.11,"f":7.72},{"a":51,"d":1.11,"f":7.83},{"a":53,"d":1.11,"f":7.94},{"a":55,"d":1.11,"f":8.05},{"a":57,"d":1.11,"f":8.16},{"a":59,"d":1.11,"f":8.26},{"a":61,"d":1.11,"f":8.37},{"a":63,"d":1.11,"f":8.48},{"a":65,"d":1.11,"f":8.59},{"a":67,"d":1.11,"f":8.7},{"a":69,"d":1.11,"f":8.8},{"a":71,"d":1.11,"f":8.91},{"a":73,"d":1.11,"f":9.02},{"a":75,"d":1.11,"f":9.13},{"a":77,"d":1.11,"f":9.24},{"a":79,"d":1.11,"f":9.34},
{"a":21,"d":1.13,"f":6.27},{"a":23,"d":1.13,"f":6.37},{"a":25,"d":1.13,"f":6.48},{"a":27,"d":1.13,"f":6.59},{"a":29,"d":1.13,"f":6.7},{"a":31,"d":1.13,"f":6.81},{"a":33,"d":1.13,"f":6.91},{"a":35,"d":1.13,"f":7.02},{"a":37,"d":1.13,"f":7.13},{"a":39,"d":1.13,"f":7.24},{"a":41,"d":1.13,"f":7.35},{"a":43,"d":1.13,"f":7.45},{"a":45,"d":1.13,"f":7.56},{"a":47,"d":1.13,"f":7.67},{"a":49,"d":1.13,"f":7.78},{"a":51,"d":1.13,"f":7.89},{"a":53,"d":1.13,"f":7.99},{"a":55,"d":1.13,"f":8.1},{"a":57,"d":1.13,"f":8.21},{"a":59,"d":1.13,"f":8.32},{"a":61,"d":1.13,"f":8.43},{"a":63,"d":1.13,"f":8.53},{"a":65,"d":1.13,"f":8.64},{"a":67,"d":1.13,"f":8.75},{"a":69,"d":1.13,"f":8.86},{"a":71,"d":1.13,"f":8.97},{"a":73,"d":1.13,"f":9.07},{"a":75,"d":1.13,"f":9.18},{"a":77,"d":1.13,"f":9.29},{"a":79,"d":1.13,"f":9.4},
{"a":21,"d":1.15,"f":6.32},{"a":23,"d":1.15,"f":6.43},{"a":25,"d":1.15,"f":6.54},{"a":27,"d":1.15,"f":6.64},{"a":29,"d":1.15,"f":6.75},{"a":31,"d":1.15,"f":6.86},{"a":33,"d":1.15,"f":6.97},{"a":35,"d":1.15,"f":7.08},{"a":37,"d":1.15,"f":7.18},{"a":39,"d":1.15,"f":7.29},{"a":41,"d":1.15,"f":7.4},{"a":43,"d":1.15,"f":7.51},{"a":45,"d":1.15,"f":7.62},{"a":47,"d":1.15,"f":7.72},{"a":49,"d":1.15,"f":7.83},{"a":51,"d":1.15,"f":7.94},{"a":53,"d":1.15,"f":8.05},{"a":55,"d":1.15,"f":8.16},{"a":57,"d":1.15,"f":8.26},{"a":59,"d":1.15,"f":8.37},{"a":61,"d":1.15,"f":8.48},{"a":63,"d":1.15,"f":8.59},{"a":65,"d":1.15,"f":8.7},{"a":67,"d":1.15,"f":8.8},{"a":69,"d":1.15,"f":8.91},{"a":71,"d":1.15,"f":9.02},{"a":73,"d":1.15,"f":9.13},{"a":75,"d":1.15,"f":9.24},{"a":77,"d":1.15,"f":9.34},{"a":79,"d":1.15,"f":9.45},
{"a":21,"d":1.17,"f":6.37},{"a":23,"d":1.17,"f":6.48},{"a":25,"d":1.17,"f":6.59},{"a":27,"d":1.17,"f":6.7},{"a":29,"d":1.17,"f":6.81},{"a":31,"d":1.17,"f":6.91},{"a":33,"d":1.17,"f":7.02},{"a":35,"d":1.17,"f":7.13},{"a":37,"d":1.17,"f":7.24},{"a":39,"d":1.17,"f":7.35},{"a":41,"d":1.17,"f":7.45},{"a":43,"d":1.17,"f":7.56},{"a":45,"d":1.17,"f":7.67},{"a":47,"d":1.17,"f":7.78},{"a":49,"d":1.17,"f":7.89},{"a":51,"d":1.17,"f":7.99},{"a":53,"d":1.17,"f":8.1},{"a":55,"d":1.17,"f":8.21},{"a":57,"d":1.17,"f":8.32},{"a":59,"d":1.17,"f":8.43},{"a":61,"d":1.17,"f":8.53},{"a":63,"d":1.17,"f":8.64},{"a":65,"d":1.17,"f":8.75},{"a":67,"d":1.17,"f":8.86},{"a":69,"d":1.17,"f":8.97},{"a":71,"d":1.17,"f":9.07},{"a":73,"d":1.17,"f":9.18},{"a":75,"d":1.17,"f":9.29},{"a":77,"d":1.17,"f":9.4},{"a":79,"d":1.17,"f":9.51},
{"a":21,"d":1.19,"f":6.43},{"a":23,"d":1.19,"f":6.54},{"a":25,"d":1.19,"f":6.64},{"a":27,"d":1.19,"f":6.75},{"a":29,"d":1.19,"f":6.86},{"a":31,"d":1.19,"f":6.97},{"a":33,"d":1.19,"f":7.08},{"a":35,"d":1.19,"f":7.18},{"a":37,"d":1.19,"f":7.29},{"a":39,"d":1.19,"f":7.4},{"a":41,"d":1.19,"f":7.51},{"a":43,"d":1.19,"f":7.62},{"a":45,"d":1.19,"f":7.72},{"a":47,"d":1.19,"f":7.83},{"a":49,"d":1.19,"f":7.94},{"a":51,"d":1.19,"f":8.05},{"a":53,"d":1.19,"f":8.16},{"a":55,"d":1.19,"f":8.26},{"a":57,"d":1.19,"f":8.37},{"a":59,"d":1.19,"f":8.48},{"a":61,"d":1.19,"f":8.59},{"a":63,"d":1.19,"f":8.7},{"a":65,"d":1.19,"f":8.8},{"a":67,"d":1.19,"f":8.91},{"a":69,"d":1.19,"f":9.02},{"a":71,"d":1.19,"f":9.13},{"a":73,"d":1.19,"f":9.24},{"a":75,"d":1.19,"f":9.34},{"a":77,"d":1.19,"f":9.45},{"a":79,"d":1.19,"f":9.56},
{"a":21,"d":1.21,"f":6.48},{"a":23,"d":1.21,"f":6.59},{"a":25,"d":1.21,"f":6.7},{"a":27,"d":1.21,"f":6.81},{"a":29,"d":1.21,"f":6.91},{"a":31,"d":1.21,"f":7.02},{"a":33,"d":1.21,"f":7.13},{"a":35,"d":1.21,"f":7.24},{"a":37,"d":1.21,"f":7.35},{"a":39,"d":1.21,"f":7.45},{"a":41,"d":1.21,"f":7.56},{"a":43,"d":1.21,"f":7.67},{"a":45,"d":1.21,"f":7.78},{"a":47,"d":1.21,"f":7.89},{"a":49,"d":1.21,"f":7.99},{"a":51,"d":1.21,"f":8.1},{"a":53,"d":1.21,"f":8.21},{"a":55,"d":1.21,"f":8.32},{"a":57,"d":1.21,"f":8.43},{"a":59,"d":1.21,"f":8.53},{"a":61,"d":1.21,"f":8.64},{"a":63,"d":1.21,"f":8.75},{"a":65,"d":1.21,"f":8.86},{"a":67,"d":1.21,"f":8.97},{"a":69,"d":1.21,"f":9.07},{"a":71,"d":1.21,"f":9.18},{"a":73,"d":1.21,"f":9.29},{"a":75,"d":1.21,"f":9.4},{"a":77,"d":1.21,"f":9.51},{"a":79,"d":1.21,"f":9.61},
{"a":21,"d":1.23,"f":6.54},{"a":23,"d":1.23,"f":6.64},{"a":25,"d":1.23,"f":6.75},{"a":27,"d":1.23,"f":6.86},{"a":29,"d":1.23,"f":6.97},{"a":31,"d":1.23,"f":7.08},{"a":33,"d":1.23,"f":7.18},{"a":35,"d":1.23,"f":7.29},{"a":37,"d":1.23,"f":7.4},{"a":39,"d":1.23,"f":7.51},{"a":41,"d":1.23,"f":7.62},{"a":43,"d":1.23,"f":7.72},{"a":45,"d":1.23,"f":7.83},{"a":47,"d":1.23,"f":7.94},{"a":49,"d":1.23,"f":8.05},{"a":51,"d":1.23,"f":8.16},{"a":53,"d":1.23,"f":8.26},{"a":55,"d":1.23,"f":8.37},{"a":57,"d":1.23,"f":8.48},{"a":59,"d":1.23,"f":8.59},{"a":61,"d":1.23,"f":8.7},{"a":63,"d":1.23,"f":8.8},{"a":65,"d":1.23,"f":8.91},{"a":67,"d":1.23,"f":9.02},{"a":69,"d":1.23,"f":9.13},{"a":71,"d":1.23,"f":9.24},{"a":73,"d":1.23,"f":9.34},{"a":75,"d":1.23,"f":9.45},{"a":77,"d":1.23,"f":9.56},{"a":79,"d":1.23,"f":9.67},
{"a":21,"d":1.25,"f":6.59},{"a":23,"d":1.25,"f":6.7},{"a":25,"d":1.25,"f":6.81},{"a":27,"d":1.25,"f":6.91},{"a":29,"d":1.25,"f":7.02},{"a":31,"d":1.25,"f":7.13},{"a":33,"d":1.25,"f":7.24},{"a":35,"d":1.25,"f":7.35},{"a":37,"d":1.25,"f":7.45},{"a":39,"d":1.25,"f":7.56},{"a":41,"d":1.25,"f":7.67},{"a":43,"d":1.25,"f":7.78},{"a":45,"d":1.25,"f":7.89},{"a":47,"d":1.25,"f":7.99},{"a":49,"d":1.25,"f":8.1},{"a":51,"d":1.25,"f":8.21},{"a":53,"d":1.25,"f":8.32},{"a":55,"d":1.25,"f":8.43},{"a":57,"d":1.25,"f":8.53},{"a":59,"d":1.25,"f":8.64},{"a":61,"d":1.25,"f":8.75},{"a":63,"d":1.25,"f":8.86},{"a":65,"d":1.25,"f":8.97},{"a":67,"d":1.25,"f":9.07},{"a":69,"d":1.25,"f":9.18},{"a":71,"d":1.25,"f":9.29},{"a":73,"d":1.25,"f":9.4},{"a":75,"d":1.25,"f":9.51},{"a":77,"d":1.25,"f":9.61},{"a":79,"d":1.25,"f":9.72},
{"a":21,"d":1.27,"f":6.64},{"a":23,"d":1.27,"f":6.75},{"a":25,"d":1.27,"f":6.86},{"a":27,"d":1.27,"f":6.97},{"a":29,"d":1.27,"f":7.08},{"a":31,"d":1.27,"f":7.18},{"a":33,"d":1.27,"f":7.29},{"a":35,"d":1.27,"f":7.4},{"a":37,"d":1.27,"f":7.51},{"a":39,"d":1.27,"f":7.62},{"a":41,"d":1.27,"f":7.72},{"a":43,"d":1.27,"f":7.83},{"a":45,"d":1.27,"f":7.94},{"a":47,"d":1.27,"f":8.05},{"a":49,"d":1.27,"f":8.16},{"a":51,"d":1.27,"f":8.26},{"a":53,"d":1.27,"f":8.37},{"a":55,"d":1.27,"f":8.48},{"a":57,"d":1.27,"f":8.59},{"a":59,"d":1.27,"f":8.7},{"a":61,"d":1.27,"f":8.8},{"a":63,"d":1.27,"f":8.91},{"a":65,"d":1.27,"f":9.02},{"a":67,"d":1.27,"f":9.13},{"a":69,"d":1.27,"f":9.24},{"a":71,"d":1.27,"f":9.34},{"a":73,"d":1.27,"f":9.45},{"a":75,"d":1.27,"f":9.56},{"a":77,"d":1.27,"f":9.67},{"a":79,"d":1.27,"f":9.78},
{"a":21,"d":1.29,"f":6.7},{"a":23,"d":1.29,"f":6.81},{"a":25,"d":1.29,"f":6.91},{"a":27,"d":1.29,"f":7.02},{"a":29,"d":1.29,"f":7.13},{"a":31,"d":1.29,"f":7.24},{"a":33,"d":1.29,"f":7.35},{"a":35,"d":1.29,"f":7.45},{"a":37,"d":1.29,"f":7.56},{"a":39,"d":1.29,"f":7.67},{"a":41,"d":1.29,"f":7.78},{"a":43,"d":1.29,"f":7.89},{"a":45,"d":1.29,"f":7.99},{"a":47,"d":1.29,"f":8.1},{"a":49,"d":1.29,"f":8.21},{"a":51,"d":1.29,"f":8.32},{"a":53,"d":1.29,"f":8.43},{"a":55,"d":1.29,"f":8.53},{"a":57,"d":1.29,"f":8.64},{"a":59,"d":1.29,"f":8.75},{"a":61,"d":1.29,"f":8.86},{"a":63,"d":1.29,"f":8.97},{"a":65,"d":1.29,"f":9.07},{"a":67,"d":1.29,"f":9.18},{"a":69,"d":1.29,"f":9.29},{"a":71,"d":1.29,"f":9.4},{"a":73,"d":1.29,"f":9.51},{"a":75,"d":1.29,"f":9.61},{"a":77,"d":1.29,"f":9.72},{"a":79,"d":1.29,"f":9.83},
{"a":21,"d":1.31,"f":6.75},{"a":23,"d":1.31,"f":6.86},{"a":25,"d":1.31,"f":6.97},{"a":27,"d":1.31,"f":7.08},{"a":29,"d":1.31,"f":7.18},{"a":31,"d":1.31,"f":7.29},{"a":33,"d":1.31,"f":7.4},{"a":35,"d":1.31,"f":7.51},{"a":37,"d":1.31,"f":7.62},{"a":39,"d":1.31,"f":7.72},{"a":41,"d":1.31,"f":7.83},{"a":43,"d":1.31,"f":7.94},{"a":45,"d":1.31,"f":8.05},{"a":47,"d":1.31,"f":8.16},{"a":49,"d":1.31,"f":8.26},{"a":51,"d":1.31,"f":8.37},{"a":53,"d":1.31,"f":8.48},{"a":55,"d":1.31,"f":8.59},{"a":57,"d":1.31,"f":8.7},{"a":59,"d":1.31,"f":8.8},{"a":61,"d":1.31,"f":8.91},{"a":63,"d":1.31,"f":9.02},{"a":65,"d":1.31,"f":9.13},{"a":67,"d":1.31,"f":9.24},{"a":69,"d":1.31,"f":9.34},{"a":71,"d":1.31,"f":9.45},{"a":73,"d":1.31,"f":9.56},{"a":75,"d":1.31,"f":9.67},{"a":77,"d":1.31,"f":9.78},{"a":79,"d":1.31,"f":9.88},
{"a":21,"d":1.33,"f":6.81},{"a":23,"d":1.33,"f":6.91},{"a":25,"d":1.33,"f":7.02},{"a":27,"d":1.33,"f":7.13},{"a":29,"d":1.33,"f":7.24},{"a":31,"d":1.33,"f":7.35},{"a":33,"d":1.33,"f":7.45},{"a":35,"d":1.33,"f":7.56},{"a":37,"d":1.33,"f":7.67},{"a":39,"d":1.33,"f":7.78},{"a":41,"d":1.33,"f":7.89},{"a":43,"d":1.33,"f":7.99},{"a":45,"d":1.33,"f":8.1},{"a":47,"d":1.33,"f":8.21},{"a":49,"d":1.33,"f":8.32},{"a":51,"d":1.33,"f":8.43},{"a":53,"d":1.33,"f":8.53},{"a":55,"d":1.33,"f":8.64},{"a":57,"d":1.33,"f":8.75},{"a":59,"d":1.33,"f":8.86},{"a":61,"d":1.33,"f":8.97},{"a":63,"d":1.33,"f":9.07},{"a":65,"d":1.33,"f":9.18},{"a":67,"d":1.33,"f":9.29},{"a":69,"d":1.33,"f":9.4},{"a":71,"d":1.33,"f":9.51},{"a":73,"d":1.33,"f":9.61},{"a":75,"d":1.33,"f":9.72},{"a":77,"d":1.33,"f":9.83},{"a":79,"d":1.33,"f":9.94},
{"a":21,"d":1.35,"f":6.86},{"a":23,"d":1.35,"f":6.97},{"a":25,"d":1.35,"f":7.08},{"a":27,"d":1.35,"f":7.18},{"a":29,"d":1.35,"f":7.29},{"a":31,"d":1.35,"f":7.4},{"a":33,"d":1.35,"f":7.51},{"a":35,"d":1.35,"f":7.62},{"a":37,"d":1.35,"f":7.72},{"a":39,"d":1.35,"f":7.83},{"a":41,"d":1.35,"f":7.94},{"a":43,"d":1.35,"f":8.05},{"a":45,"d":1.35,"f":8.16},{"a":47,"d":1.35,"f":8.26},{"a":49,"d":1.35,"f":8.37},{"a":51,"d":1.35,"f":8.48},{"a":53,"d":1.35,"f":8.59},{"a":55,"d":1.35,"f":8.7},{"a":57,"d":1.35,"f":8.8},{"a":59,"d":1.35,"f":8.91},{"a":61,"d":1.35,"f":9.02},{"a":63,"d":1.35,"f":9.13},{"a":65,"d":1.35,"f":9.24},{"a":67,"d":1.35,"f":9.34},{"a":69,"d":1.35,"f":9.45},{"a":71,"d":1.35,"f":9.56},{"a":73,"d":1.35,"f":9.67},{"a":75,"d":1.35,"f":9.78},{"a":77,"d":1.35,"f":9.88},{"a":79,"d":1.35,"f":9.99},
{"a":21,"d":1.37,"f":6.91},{"a":23,"d":1.37,"f":7.02},{"a":25,"d":1.37,"f":7.13},{"a":27,"d":1.37,"f":7.24},{"a":29,"d":1.37,"f":7.35},{"a":31,"d":1.37,"f":7.45},{"a":33,"d":1.37,"f":7.56},{"a":35,"d":1.37,"f":7.67},{"a":37,"d":1.37,"f":7.78},{"a":39,"d":1.37,"f":7.89},{"a":41,"d":1.37,"f":7.99},{"a":43,"d":1.37,"f":8.1},{"a":45,"d":1.37,"f":8.21},{"a":47,"d":1.37,"f":8.32},{"a":49,"d":1.37,"f":8.43},{"a":51,"d":1.37,"f":8.53},{"a":53,"d":1.37,"f":8.64},{"a":55,"d":1.37,"f":8.75},{"a":57,"d":1.37,"f":8.86},{"a":59,"d":1.37,"f":8.97},{"a":61,"d":1.37,"f":9.07},{"a":63,"d":1.37,"f":9.18},{"a":65,"d":1.37,"f":9.29},{"a":67,"d":1.37,"f":9.4},{"a":69,"d":1.37,"f":9.51},{"a":71,"d":1.37,"f":9.61},{"a":73,"d":1.37,"f":9.72},{"a":75,"d":1.37,"f":9.83},{"a":77,"d":1.37,"f":9.94},{"a":79,"d":1.37,"f":10.05},
{"a":21,"d":1.39,"f":6.97},{"a":23,"d":1.39,"f":7.08},{"a":25,"d":1.39,"f":7.18},{"a":27,"d":1.39,"f":7.29},{"a":29,"d":1.39,"f":7.4},{"a":31,"d":1.39,"f":7.51},{"a":33,"d":1.39,"f":7.62},{"a":35,"d":1.39,"f":7.72},{"a":37,"d":1.39,"f":7.83},{"a":39,"d":1.39,"f":7.94},{"a":41,"d":1.39,"f":8.05},{"a":43,"d":1.39,"f":8.16},{"a":45,"d":1.39,"f":8.26},{"a":47,"d":1.39,"f":8.37},{"a":49,"d":1.39,"f":8.48},{"a":51,"d":1.39,"f":8.59},{"a":53,"d":1.39,"f":8.7},{"a":55,"d":1.39,"f":8.8},{"a":57,"d":1.39,"f":8.91},{"a":59,"d":1.39,"f":9.02},{"a":61,"d":1.39,"f":9.13},{"a":63,"d":1.39,"f":9.24},{"a":65,"d":1.39,"f":9.34},{"a":67,"d":1.39,"f":9.45},{"a":69,"d":1.39,"f":9.56},{"a":71,"d":1.39,"f":9.67},{"a":73,"d":1.39,"f":9.78},{"a":75,"d":1.39,"f":9.88},{"a":77,"d":1.39,"f":9.99},{"a":79,"d":1.39,"f":10.1}
]},
"hconcat":[
{
"width":380,"height":458,
"data":{"name":"notes"},
"mark":{"type":"text","align":"left","baseline":"middle","fontSize":24,"color":"black","font":"DejaVu Sans"},
"encoding":{
"x":{"field":"col","type":"quantitative","scale":{"domain":[0,1],"nice":false},"axis":null},
"y":{"field":"line","type":"quantitative","scale":{"domain":[-4.23,10.836],"nice":false,"zero":false,"reverse":true},"axis":null},
"text":{"field":"txt"}
}
},
{
"width":604,"height":458,
"title":{"text":"Granule flowability (ffc)","fontSize":24,"fontWeight":"normal","font":"DejaVu Sans","frame":"group","anchor":"middle","offset":-5,"color":"black"},
"resolve":{"axis":{"x":"independent","y":"independent"}},
"layer":[
{
"data":{"name":"grid"},
"mark":{"type":"rect","width":20.7,"height":12,"clip":true},
"encoding":{
"x":{"field":"a","type":"quantitative","scale":{"domain":[20,80],"nice":false,"zero":false},
 "axis":{"orient":"bottom","values":[20,30,40,50,60,70,80],"title":"A: Roller pressure (bar)","grid":false,"labelFlush":false,"domainColor":"black","domainWidth":1.5,"tickColor":"#6e6e6e","tickSize":13,"tickWidth":1.5,"labelFontSize":24,"labelFont":"DejaVu Sans","labelColor":"black","labelPadding":3,"titleFontSize":24,"titleFont":"DejaVu Sans","titleFontWeight":"normal","titleColor":"black","titlePadding":23}},
"y":{"field":"d","type":"quantitative","scale":{"domain":[0.6,1.4],"nice":false,"zero":false},
 "axis":{"orient":"left","values":[0.6,0.8,1,1.2,1.4],"format":".1f","title":"D: Mill screen orifice size (mm)","grid":false,"labelFlush":false,"domainColor":"#6e6e6e","domainWidth":1.5,"tickColor":"#6e6e6e","tickSize":16,"tickWidth":1.5,"labelFontSize":24,"labelFont":"DejaVu Sans","labelColor":"black","labelPadding":5,"titleFontSize":24,"titleFont":"DejaVu Sans","titleFontWeight":"normal","titleColor":"black","titlePadding":10}},
"color":{"field":"f","type":"quantitative","scale":{"domain":[4.2,5.775,7.35,8.925,10.5],"range":["#0000ff","#00ffff","#00ff00","#ffff00","#ff0000"],"interpolate":"rgb"},
 "legend":{"orient":"none","legendX":13,"legendY":16,"direction":"vertical","title":null,"values":[4.2,10.5],"format":".1f","gradientLength":55,"gradientThickness":12,"gradientStrokeColor":"black","gradientStrokeWidth":1,"labelFontSize":24,"labelFont":"DejaVu Sans","labelOffset":54,
  "encoding":{"labels":{"fill":{"condition":{"test":"datum.value > 7","value":"#ff0000"},"value":"#0000ff"},"baseline":{"value":"middle"},"align":{"value":"right"}}}}}
}
},
{
"data":{"name":"lines"},
"mark":{"type":"line","color":"black","strokeWidth":1,"clip":true},
"encoding":{
"x":{"field":"a","type":"quantitative","axis":{"orient":"top","labels":false,"ticks":false,"title":null,"grid":false,"domainColor":"#6e6e6e","domainWidth":1.5}},
"y":{"field":"d","type":"quantitative","axis":{"orient":"right","labels":false,"ticks":false,"title":null,"grid":false,"domainColor":"black","domainWidth":1.5}},
"detail":{"field":"lev","type":"nominal"}
}
},
{
"data":{"name":"labels"},
"mark":{"type":"point","shape":"M-1,-0.7L1,-0.7L1,0.7L-1,0.7Z","filled":true,"fill":"white","stroke":"black","strokeWidth":2,"size":2209,"opacity":1},
"encoding":{
"x":{"field":"a","type":"quantitative","axis":null},
"y":{"field":"d","type":"quantitative","axis":null}
}
},
{
"data":{"name":"labels"},
"mark":{"type":"text","fontSize":24,"font":"DejaVu Sans","color":"black","align":"center","baseline":"middle","dy":1},
"encoding":{
"x":{"field":"a","type":"quantitative","axis":null},
"y":{"field":"d","type":"quantitative","axis":null},
"text":{"field":"lab"}
}
}
]
}
]
}
